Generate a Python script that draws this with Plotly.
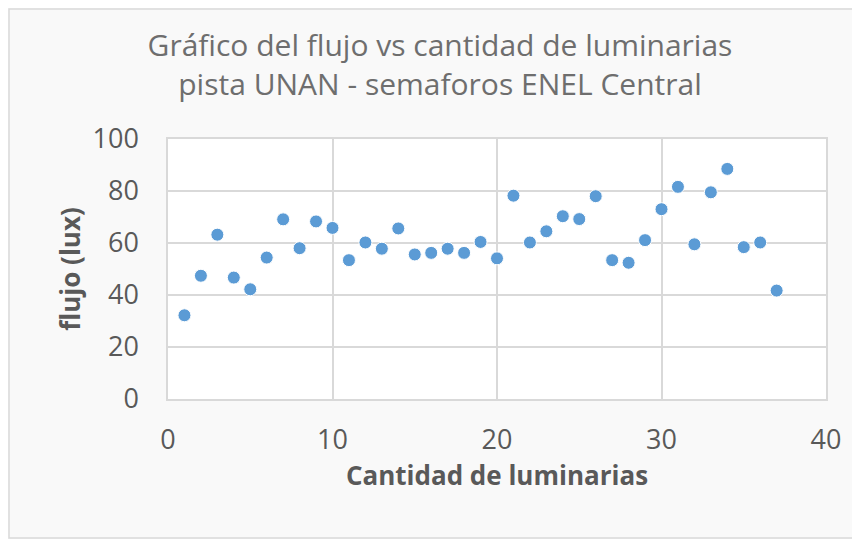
import plotly.graph_objects as go

cantidad = list(range(1, 38))
flujo = [32.2, 47.4, 63.2, 46.7, 42.2, 54.4, 69.1, 58.0, 68.3, 65.8,
         53.4, 60.2, 57.8, 65.6, 55.6, 56.2, 57.8, 56.2, 60.4, 54.1,
         78.2, 60.2, 64.5, 70.3, 69.2, 78.0, 53.4, 52.4, 61.1, 73.0,
         81.6, 59.5, 79.5, 88.5, 58.4, 60.2, 41.7]

FONT = "Open Sans"
GRAY = "#595959"

fig = go.Figure()
fig.add_trace(go.Scatter(
    x=cantidad, y=flujo, mode="markers",
    marker=dict(size=13, color="#5B9BD5", line=dict(width=1, color="#FFFFFF")),
    showlegend=False, cliponaxis=False,
))

# page body has an 8px margin; figure coordinates = reference pixels - 8
W, H = 852, 531
L, R, T, B = 160, 34, 131, 140
pw, ph = W - L - R, H - T - B

def px_to_paper_x(px):
    return (px - L) / pw

def px_to_paper_y(py):
    return (H - B - py) / ph

fig.update_layout(
    width=W, height=H,
    margin=dict(l=L, r=R, t=T, b=B, autoexpand=False),
    paper_bgcolor="#F9F9F9",
    plot_bgcolor="#FFFFFF",
    title=dict(
        text="Gráfico del flujo vs cantidad de luminarias<br>pista UNAN - semaforos ENEL Central",
        x=432 / W, xanchor="center", xref="container",
        y=1 - 48 / H, yanchor="middle", yref="container",
        font=dict(family=FONT, size=30, color="#6E6E6E"),
    ),
    xaxis=dict(
        range=[0, 40], dtick=10, tick0=0,
        showgrid=True, gridcolor="#D9D9D9", gridwidth=1.5,
        zeroline=False, showline=True, linecolor="#D9D9D9", linewidth=1.5, mirror=True,
        ticks="", ticklabelstandoff=16, automargin=False,
        tickfont=dict(family=FONT, size=27, color=GRAY),
        title=dict(text="<b>Cantidad de luminarias</b>", standoff=6,
                   font=dict(family=FONT, size=26, color=GRAY)),
    ),
    yaxis=dict(
        range=[0, 100], dtick=20, tick0=0,
        showgrid=True, gridcolor="#D9D9D9", gridwidth=1.5,
        zeroline=False, showline=True, linecolor="#D9D9D9", linewidth=1.5, mirror=True,
        ticks="", ticklabelstandoff=22, automargin=False,
        tickfont=dict(family=FONT, size=27, color=GRAY),
        title=dict(text="<b>flujo (lux)</b>", standoff=4,
                   font=dict(family=FONT, size=26, color=GRAY)),
    ),
    shapes=[dict(
        type="rect", xref="paper", yref="paper", layer="below",
        x0=px_to_paper_x(1), x1=px_to_paper_x(W - 1),
        y0=px_to_paper_y(H - 1), y1=px_to_paper_y(1),
        line=dict(color="#D9D9D9", width=1.5), fillcolor="rgba(0,0,0,0)",
    )],
)

fig.write_html("out.html")
